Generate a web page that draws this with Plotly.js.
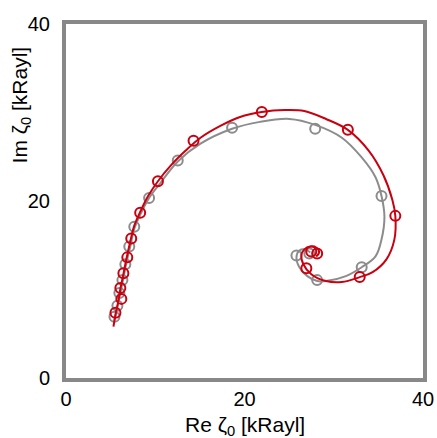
<!DOCTYPE html>
<html>
<head>
<meta charset="utf-8">
<script src="https://cdn.plot.ly/plotly-3.0.1.min.js"></script>
<style>html,body{margin:0;padding:0;background:#fff;}#chart{width:437px;height:438px;}</style>
</head>
<body>
<div id="chart"></div>
<script>
// Measured points (markers)
const redMarkX = [5.54, 6.20, 6.09, 6.43, 6.87, 7.31, 8.31, 10.30, 14.29, 21.94, 31.58, 36.90, 32.91, 26.93, 27.48, 28.14];
const redMarkY = [7.37, 8.94, 10.17, 11.84, 13.63, 15.75, 18.66, 22.23, 26.82, 30.06, 28.04, 18.32, 11.40, 12.40, 14.30, 14.08];
const grayMarkX = [5.43, 5.76, 5.98, 6.32, 6.65, 7.09, 7.65, 9.31, 12.52, 18.61, 27.92, 35.35, 33.13, 28.14, 25.82, 27.26];
const grayMarkY = [6.93, 8.16, 9.61, 11.06, 12.85, 14.86, 17.09, 20.34, 24.58, 28.27, 28.16, 20.56, 12.51, 11.06, 13.85, 14.08];

// Model curves
const redLineX = [5.32, 5.54, 5.87, 6.09, 6.43, 6.76, 7.20, 7.65, 8.31, 9.20, 10.30, 11.75, 13.41, 15.07, 17.29, 19.50, 21.94, 24.49, 26.70, 29.14, 31.58, 33.91, 35.57, 36.57, 36.90, 36.79, 35.90, 34.35, 32.91, 30.91, 29.14, 27.48, 26.59, 26.37, 26.70, 27.37, 28.03, 28.37, 28.03];
const redLineY = [5.81, 7.15, 8.72, 10.06, 11.73, 13.41, 15.42, 17.21, 18.77, 20.56, 22.23, 24.02, 25.70, 27.15, 28.49, 29.50, 30.06, 30.28, 30.17, 29.27, 28.04, 25.70, 22.91, 20.11, 18.32, 15.64, 13.41, 11.96, 11.40, 10.84, 10.95, 11.73, 12.85, 13.85, 14.53, 14.86, 14.75, 14.19, 13.74];
const grayLineX = [5.43, 5.76, 6.09, 6.43, 6.76, 7.20, 7.65, 8.42, 9.31, 10.64, 12.52, 15.07, 18.61, 21.72, 25.04, 27.92, 30.91, 33.13, 34.68, 35.35, 35.68, 35.35, 34.68, 33.13, 31.36, 29.14, 28.14, 27.04, 26.15, 25.82, 26.15, 26.81, 27.37];
const grayLineY = [6.48, 8.04, 9.61, 11.28, 12.96, 14.86, 16.87, 18.66, 20.34, 22.12, 24.47, 26.48, 28.16, 28.94, 29.27, 28.60, 27.15, 24.92, 22.68, 20.56, 18.21, 15.64, 13.74, 12.51, 11.51, 10.95, 10.95, 11.51, 12.51, 13.63, 14.41, 14.53, 14.19];

const tickVals = [0, 20, 40];
const tickText = ['0', '20', '40'];

const RED = '#c80010';
const GRAY = '#8c8c8c';
const FONT = 'Liberation Sans, Arial, sans-serif';

const traces = [
  {x: grayLineX, y: grayLineY, mode: 'lines', line: {color: GRAY, width: 2, shape: 'spline'}, hoverinfo: 'skip'},
  {x: grayMarkX, y: grayMarkY, mode: 'markers', marker: {symbol: 'circle-open', size: 10, color: GRAY, line: {width: 2, color: GRAY}}},
  {x: redLineX, y: redLineY, mode: 'lines', line: {color: RED, width: 2, shape: 'spline'}, hoverinfo: 'skip'},
  {x: redMarkX, y: redMarkY, mode: 'markers', marker: {symbol: 'circle-open', size: 10, color: RED, line: {width: 2, color: RED}}}
];

const axisCommon = {
  range: [0, 40], tickvals: tickVals, ticktext: tickText,
  showgrid: false, zeroline: false, showline: true, mirror: true,
  linecolor: '#888888', linewidth: 4, ticks: '',
  tickfont: {family: FONT, size: 20, color: '#000'},
  fixedrange: true
};

const layout = {
  width: 437, height: 438,
  margin: {l: 66, r: 14, t: 24, b: 60},
  showlegend: false,
  paper_bgcolor: '#fff', plot_bgcolor: '#fff',
  xaxis: Object.assign({}, axisCommon, {ticklabelstandoff: 0}),
  yaxis: Object.assign({}, axisCommon, {ticklabelstandoff: 8}),
  annotations: [
    {text: 'Re ζ<sub>0</sub> [kRayl]', xref: 'paper', yref: 'paper', x: 0.5, y: 0, xanchor: 'center', yanchor: 'middle', yshift: -48, showarrow: false,
     font: {family: FONT, size: 21, color: '#000'}},
    {text: 'Im ζ<sub>0</sub> [kRayl]', xref: 'paper', yref: 'paper', x: 0, y: 0.77, xanchor: 'center', yanchor: 'middle', xshift: -45, textangle: -90, showarrow: false,
     font: {family: FONT, size: 21, color: '#000'}}
  ]
};

Plotly.newPlot('chart', traces, layout, {displayModeBar: false, staticPlot: true});
</script>
</body>
</html>
